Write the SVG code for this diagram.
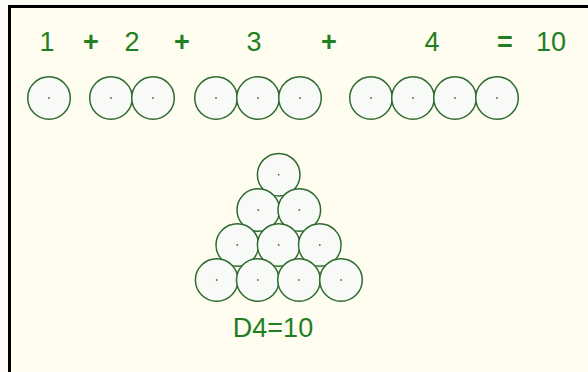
<svg xmlns="http://www.w3.org/2000/svg" width="588" height="372" viewBox="0 0 588 372">
<defs>
<style>
.c{fill:#f7faf6;stroke:#2f6a2f;stroke-width:1.5}
.d{fill:#8a4a4a}
.t{font-family:"Liberation Sans",Arial,sans-serif;font-size:27px;fill:#1f7f22;text-anchor:middle}
.b{font-weight:bold}
</style>
<g id="ball"><circle class="c" r="21.3"/><circle class="d" r="0.9"/></g>
</defs>
<rect x="0" y="0" width="588" height="372" fill="#fcfbf6"/>
<rect x="10" y="7" width="578" height="365" fill="#fffdf0"/>
<path d="M9.5 372 V6.5 H588" fill="none" stroke="#000" stroke-width="3"/>
<g id="equation">
<text class="t" x="47" y="51">1</text>
<text class="t b" x="91" y="51">+</text>
<text class="t" x="132" y="51">2</text>
<text class="t b" x="182" y="51">+</text>
<text class="t" x="254" y="51">3</text>
<text class="t b" x="329" y="51">+</text>
<text class="t" x="432" y="51">4</text>
<text class="t b" x="505" y="51">=</text>
<text class="t" x="551" y="51">10</text>
</g>
<g id="row1"><use href="#ball" x="49" y="98"/></g>
<g id="row2"><use href="#ball" x="111" y="98"/><use href="#ball" x="153" y="98"/></g>
<g id="row3"><use href="#ball" x="216" y="98"/><use href="#ball" x="258" y="98"/><use href="#ball" x="300" y="98"/></g>
<g id="row4"><use href="#ball" x="371" y="98"/><use href="#ball" x="413" y="98"/><use href="#ball" x="455" y="98"/><use href="#ball" x="497" y="98"/></g>
<g id="triangle">
<use href="#ball" x="278.7" y="174.7"/>
<use href="#ball" x="258.3" y="210"/><use href="#ball" x="299.3" y="210"/>
<use href="#ball" x="237.3" y="245"/><use href="#ball" x="278.7" y="245"/><use href="#ball" x="319.8" y="245"/>
<use href="#ball" x="216.7" y="280"/><use href="#ball" x="257.8" y="280"/><use href="#ball" x="299" y="280"/><use href="#ball" x="341" y="280"/>
</g>
<g id="label"><text class="t" x="273" y="337">D4=10</text></g>
</svg>
